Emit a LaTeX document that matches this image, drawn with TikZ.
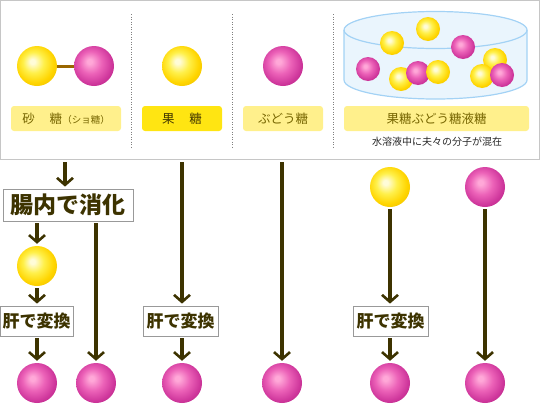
\documentclass[tikz,border=0pt]{standalone}
\usepackage{fontspec}
\setmainfont{Noto Sans CJK JP}
\usetikzlibrary{arrows.meta}

\definecolor{arrowcol}{HTML}{3D3300}
\definecolor{labelfill}{HTML}{FFF08C}
\definecolor{fructfill}{HTML}{FFE512}
\definecolor{labeltext}{HTML}{766500}
\definecolor{glassline}{HTML}{A3D2F5}
\definecolor{glassfill}{HTML}{EAF5FD}
\definecolor{bondcol}{HTML}{996600}
\definecolor{yhi}{HTML}{FFFCD8}
\definecolor{ymid}{HTML}{FFF04A}
\definecolor{yedge}{HTML}{FFD500}
\definecolor{yout}{HTML}{F2C400}
\definecolor{mhi}{HTML}{FFA8D8}
\definecolor{mmid}{HTML}{EC62B8}
\definecolor{medge}{HTML}{CF379C}
\definecolor{mout}{HTML}{BF2A8C}

\pgfdeclareradialshading{yball}{\pgfpoint{-6bp}{6bp}}{color(0bp)=(yhi); color(3bp)=(yhi); color(13bp)=(ymid); color(24bp)=(yedge); color(31bp)=(yout); color(50bp)=(yout)}
\pgfdeclareradialshading{mball}{\pgfpoint{-6bp}{6bp}}{color(0bp)=(mhi); color(3bp)=(mhi); color(14bp)=(mmid); color(25bp)=(medge); color(31bp)=(mout); color(50bp)=(mout)}

\tikzset{
  yel/.style={circle, minimum size=40pt, inner sep=0pt, shading=yball},
  mag/.style={circle, minimum size=40pt, inner sep=0pt, shading=mball},
  syel/.style={circle, minimum size=24pt, inner sep=0pt, shading=yball},
  smag/.style={circle, minimum size=24pt, inner sep=0pt, shading=mball},
  namebox/.style={rounded corners=3pt, fill=labelfill, minimum height=25pt, inner sep=0pt, text=labeltext, font=\fontsize{12.5}{13}\selectfont},
  stepbox/.style={draw=gray!80, line width=0.8pt, fill=white, inner sep=0pt, text=arrowcol, font=\bfseries},
  arr/.style={draw=arrowcol, line width=3.5pt, -{Straight Barb[length=7pt, width=16pt, line width=2.6pt]}, shorten <=2pt, shorten >=2pt},
  divider/.style={draw=gray, line width=1pt, dash pattern=on 1pt off 1.5pt}
}

\begin{document}
\begin{tikzpicture}[x=1pt, y=-1pt]
  \useasboundingbox (0,0) rectangle (540,410);

  % upper panel
  \node[draw=gray!45, line width=1pt, minimum width=539pt, minimum height=159pt, inner sep=0pt] (panel) at (270,80) {};
  \draw[divider] (131,14) -- (131,148);
  \draw[divider] (232,14) -- (232,148);
  \draw[divider] (333,14) -- (333,148);

  % sucrose
  \node[yel] (sucY) at (37,66) {};
  \node[mag] (sucM) at (94,66) {};
  \draw[line width=3pt, draw=bondcol] (sucY.east) -- (sucM.west);
  \node[namebox, minimum width=110pt] (sucL) at (66,118.5) {砂\hspace{1.2em}糖{\fontsize{9.5}{10}\selectfont（ショ糖）}};

  % fructose
  \node[yel] (fruc) at (182,66) {};
  \node[namebox, fill=fructfill, text=arrowcol!90!labeltext, minimum width=80pt] (frucL) at (182,118.5) {果\hspace{1.2em}糖};

  % glucose
  \node[mag] (gluc) at (283,66) {};
  \node[namebox, minimum width=80pt] (glucL) at (283,118.5) {ぶどう糖};

  % syrup in a dish
  \fill[glassfill] (344,30) -- (344,80) arc[start angle=180, end angle=0, x radius=91.5, y radius=19] -- (527,30) -- cycle;
  \fill[glassfill] (435.5,30) ellipse[x radius=91.5, y radius=18.5];
  \draw[glassline, line width=1.2pt] (344,30) -- (344,80) arc[start angle=180, end angle=0, x radius=91.5, y radius=19] -- (527,30);
  \draw[glassline, line width=1.2pt] (435.5,30) ellipse[x radius=91.5, y radius=18.5];
  \node[syel] (d1) at (428,29) {};
  \node[syel] (d2) at (392,43) {};
  \node[smag] (d3) at (463,47) {};
  \node[smag] (d4) at (368,69) {};
  \node[syel] (d5) at (401,79) {};
  \node[smag] (d6) at (418,73) {};
  \node[syel] (d7) at (438,72) {};
  \node[syel] (d8) at (495,60) {};
  \node[syel] (d9) at (482,76) {};
  \node[smag] (d10) at (502,75) {};
  \node[namebox, minimum width=185pt] (syrupL) at (436.5,118.5) {果糖ぶどう糖液糖};
  \node[text=gray!30!black, font=\fontsize{10}{11}\selectfont] (note) at (437,142) {水溶液中に夫々の分子が混在};

  % digestion and liver
  \node[stepbox, minimum width=130pt, minimum height=32pt, font=\bfseries\fontsize{23}{24}\selectfont] (gut) at (68,205) {腸内で消化};
  \node[yel] (y1) at (37,266) {};
  \node[stepbox, minimum width=73pt, minimum height=30pt, font=\bfseries\fontsize{17}{18}\selectfont] (liv1) at (36.5,321) {肝で変換};
  \node[mag] (m1) at (37,383) {};
  \node[mag] (m2) at (96,383) {};

  \node[stepbox, minimum width=75pt, minimum height=30pt, font=\bfseries\fontsize{17}{18}\selectfont] (liv2) at (180.5,321) {肝で変換};
  \node[mag] (m3) at (182,383) {};

  \node[mag] (m4) at (282,383) {};

  \node[yel] (y5) at (390,187) {};
  \node[stepbox, minimum width=75pt, minimum height=30pt, font=\bfseries\fontsize{17}{18}\selectfont] (liv3) at (390.5,321) {肝で変換};
  \node[mag] (m5) at (390,383) {};
  \node[mag] (m6) at (485,187) {};
  \node[mag] (m7) at (485,383) {};

  \draw[arr] (panel.south -| gut.north) ++(-3,0) coordinate (gs) -- (gs |- gut.north);
  \draw[arr] (gut.south -| y1.north) -- (y1.north);
  \draw[arr] (y1.south) -- (y1.south |- liv1.north);
  \draw[arr] (liv1.south -| m1.north) -- (m1.north);
  \draw[arr] (gut.south -| m2.north) -- (m2.north);
  \draw[arr] (panel.south -| m3.north) -- (m3.north |- liv2.north);
  \draw[arr] (liv2.south -| m3.north) -- (m3.north);
  \draw[arr] (panel.south -| m4.north) -- (m4.north);
  \draw[arr] (y5.south) -- (y5.south |- liv3.north);
  \draw[arr] (liv3.south -| m5.north) -- (m5.north);
  \draw[arr] (m6.south) -- (m7.north);
\end{tikzpicture}
\end{document}
